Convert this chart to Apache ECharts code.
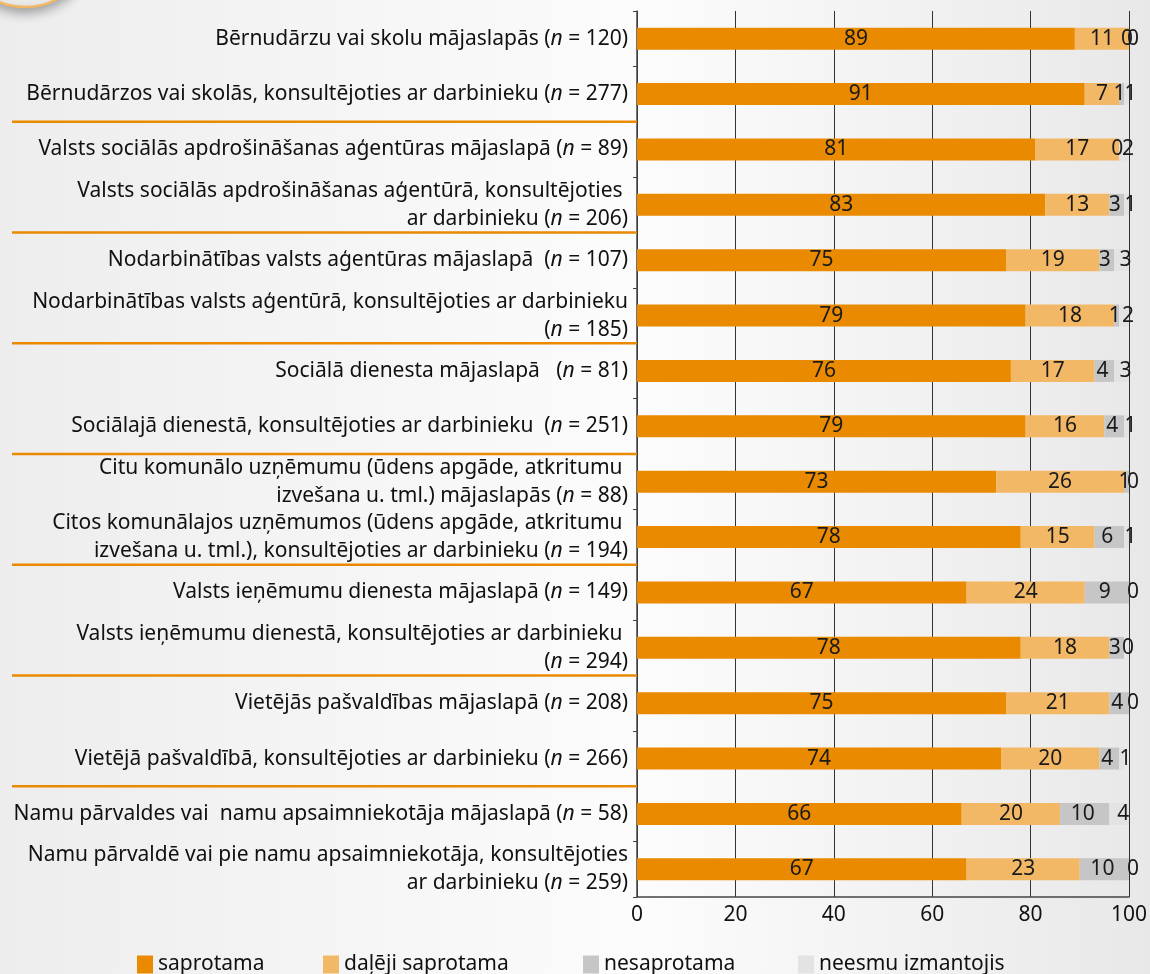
<!DOCTYPE html>
<html>
<head>
<meta charset="utf-8">
<script src="https://cdn.jsdelivr.net/npm/echarts@6/dist/echarts.min.js"></script>
<style>
  html, body { margin: 0; padding: 0; }
  #main { width: 1150px; height: 974px; }
</style>
</head>
<body>
<div id="main"></div>
<script>
// kategorijas (no augšas uz leju)
const categories = [
  'Bērnudārzu vai skolu mājaslapās (n = 120)',
  'Bērnudārzos vai skolās, konsultējoties ar darbinieku (n = 277)',
  'Valsts sociālās apdrošināšanas aģentūras mājaslapā (n = 89)',
  'Valsts sociālās apdrošināšanas aģentūrā, konsultējoties \nar darbinieku (n = 206)',
  'Nodarbinātības valsts aģentūras mājaslapā  (n = 107)',
  'Nodarbinātības valsts aģentūrā, konsultējoties ar darbinieku\n(n = 185)',
  'Sociālā dienesta mājaslapā   (n = 81)',
  'Sociālajā dienestā, konsultējoties ar darbinieku  (n = 251)',
  'Citu komunālo uzņēmumu (ūdens apgāde, atkritumu \nizvešana u. tml.) mājaslapās (n = 88)',
  'Citos komunālajos uzņēmumos (ūdens apgāde, atkritumu \nizvešana u. tml.), konsultējoties ar darbinieku (n = 194)',
  'Valsts ieņēmumu dienesta mājaslapā (n = 149)',
  'Valsts ieņēmumu dienestā, konsultējoties ar darbinieku \n(n = 294)',
  'Vietējās pašvaldības mājaslapā (n = 208)',
  'Vietējā pašvaldībā, konsultējoties ar darbinieku (n = 266)',
  'Namu pārvaldes vai  namu apsaimniekotāja mājaslapā (n = 58)',
  'Namu pārvaldē vai pie namu apsaimniekotāja, konsultējoties\nar darbinieku (n = 259)'
]
const saprotama = [89, 91, 81, 83, 75, 79, 76, 79, 73, 78, 67, 78, 75, 74, 66, 67]
const dalejiSaprotama = [11, 7, 17, 13, 19, 18, 17, 16, 26, 15, 24, 18, 21, 20, 20, 23]
const nesaprotama = [0, 1, 0, 3, 3, 1, 4, 4, 1, 6, 9, 3, 4, 4, 10, 10]
const neesmuIzmantojis = [0, 1, 2, 1, 3, 2, 3, 1, 0, 1, 0, 0, 0, 1, 4, 0]
const seriesNames = ['saprotama', 'daļēji saprotama', 'nesaprotama', 'neesmu izmantojis']
const colors = ['#E98A00', '#F2B866', '#C6C6C6', '#E3E3E3']
const legendLeft = [132, 318, 578, 793] // leģendas vienību novietojums

const FONT = 'Noto Sans'
const myChart = echarts.init(document.getElementById('main'))

const mkSeries = (name, data, color, labelShift) => ({
  name: name,
  type: 'bar',
  stack: 'kopa',
  data: data,
  barWidth: 22,
  itemStyle: { color: color },
  label: {
    show: true,
    position: 'inside',
    offset: [labelShift || 0, 0],
    color: '#1a1a1a',
    fontFamily: FONT,
    fontSize: 21
  }
})

const option = {
  backgroundColor: {
    type: 'linear', x: 0, y: 0, x2: 1, y2: 0,
    colorStops: [
      { offset: 0, color: '#ededed' },
      { offset: 0.56, color: '#fcfcfc' },
      { offset: 1, color: '#e8e8e8' }
    ]
  },
  animation: false,
  color: colors,
  grid: { left: 637, right: 14, top: 11, bottom: 77, containLabel: false },
  legend: legendLeft.map((l, i) => ({
    data: [seriesNames[i]],
    left: l,
    top: 949,
    itemWidth: 16,
    itemHeight: 18,
    itemGap: 6,
    icon: 'rect',
    textStyle: { fontFamily: FONT, fontSize: 21, color: '#111' }
  })),
  xAxis: {
    type: 'value',
    min: 0,
    max: 100,
    interval: 20,
    axisLine: { show: true, lineStyle: { color: '#444', width: 1.5 } },
    axisTick: { show: false },
    splitLine: { show: true, lineStyle: { color: '#333', width: 1 } },
    axisLabel: { fontFamily: FONT, fontSize: 21, color: '#111', margin: 8 }
  },
  yAxis: {
    type: 'category',
    inverse: true,
    data: categories,
    axisLine: { show: true, lineStyle: { color: '#444', width: 1.5 } },
    axisTick: { show: true, length: 4, lineStyle: { color: '#444' } },
    axisLabel: {
      margin: 9,
      fontFamily: FONT,
      fontSize: 21,
      color: '#111',
      lineHeight: 28,
      align: 'right',
      formatter: (v) => v.replace(/\(n =/g, '({i|n} ='),
      rich: {
        i: { fontStyle: 'italic', fontFamily: FONT, fontSize: 21, color: '#111' }
      }
    }
  },
  series: [
    mkSeries(seriesNames[0], saprotama, colors[0]),
    mkSeries(seriesNames[1], dalejiSaprotama, colors[1]),
    mkSeries(seriesNames[2], nesaprotama, colors[2], -2),
    mkSeries(seriesNames[3], neesmuIzmantojis, colors[3], 4)
  ]
}

myChart.setOption(option)

/* oranžās atdalītājlīnijas starp grupām + dekors */
const gridLeft = 637
const seps = []
for (let i = 1; i < categories.length - 1; i += 2) {
  const y1 = myChart.convertToPixel({ yAxisIndex: 0 }, categories[i])
  const y2 = myChart.convertToPixel({ yAxisIndex: 0 }, categories[i + 1])
  const y = (y1 + y2) / 2
  seps.push({
    type: 'line',
    shape: { x1: 12, y1: y, x2: gridLeft, y2: y },
    style: { stroke: '#E98A00', lineWidth: 2.5 },
    z: 10
  })
}
seps.push({
  type: 'circle',
  shape: { cx: 25, cy: -61, r: 68 },
  style: {
    fill: '#eeeeee',
    stroke: '#F2B866',
    lineWidth: 2.5,
    shadowBlur: 12,
    shadowColor: 'rgba(0,0,0,0.35)',
    shadowOffsetY: 4
  },
  z: 10
})
myChart.setOption({ graphic: seps })
</script>
</body>
</html>
